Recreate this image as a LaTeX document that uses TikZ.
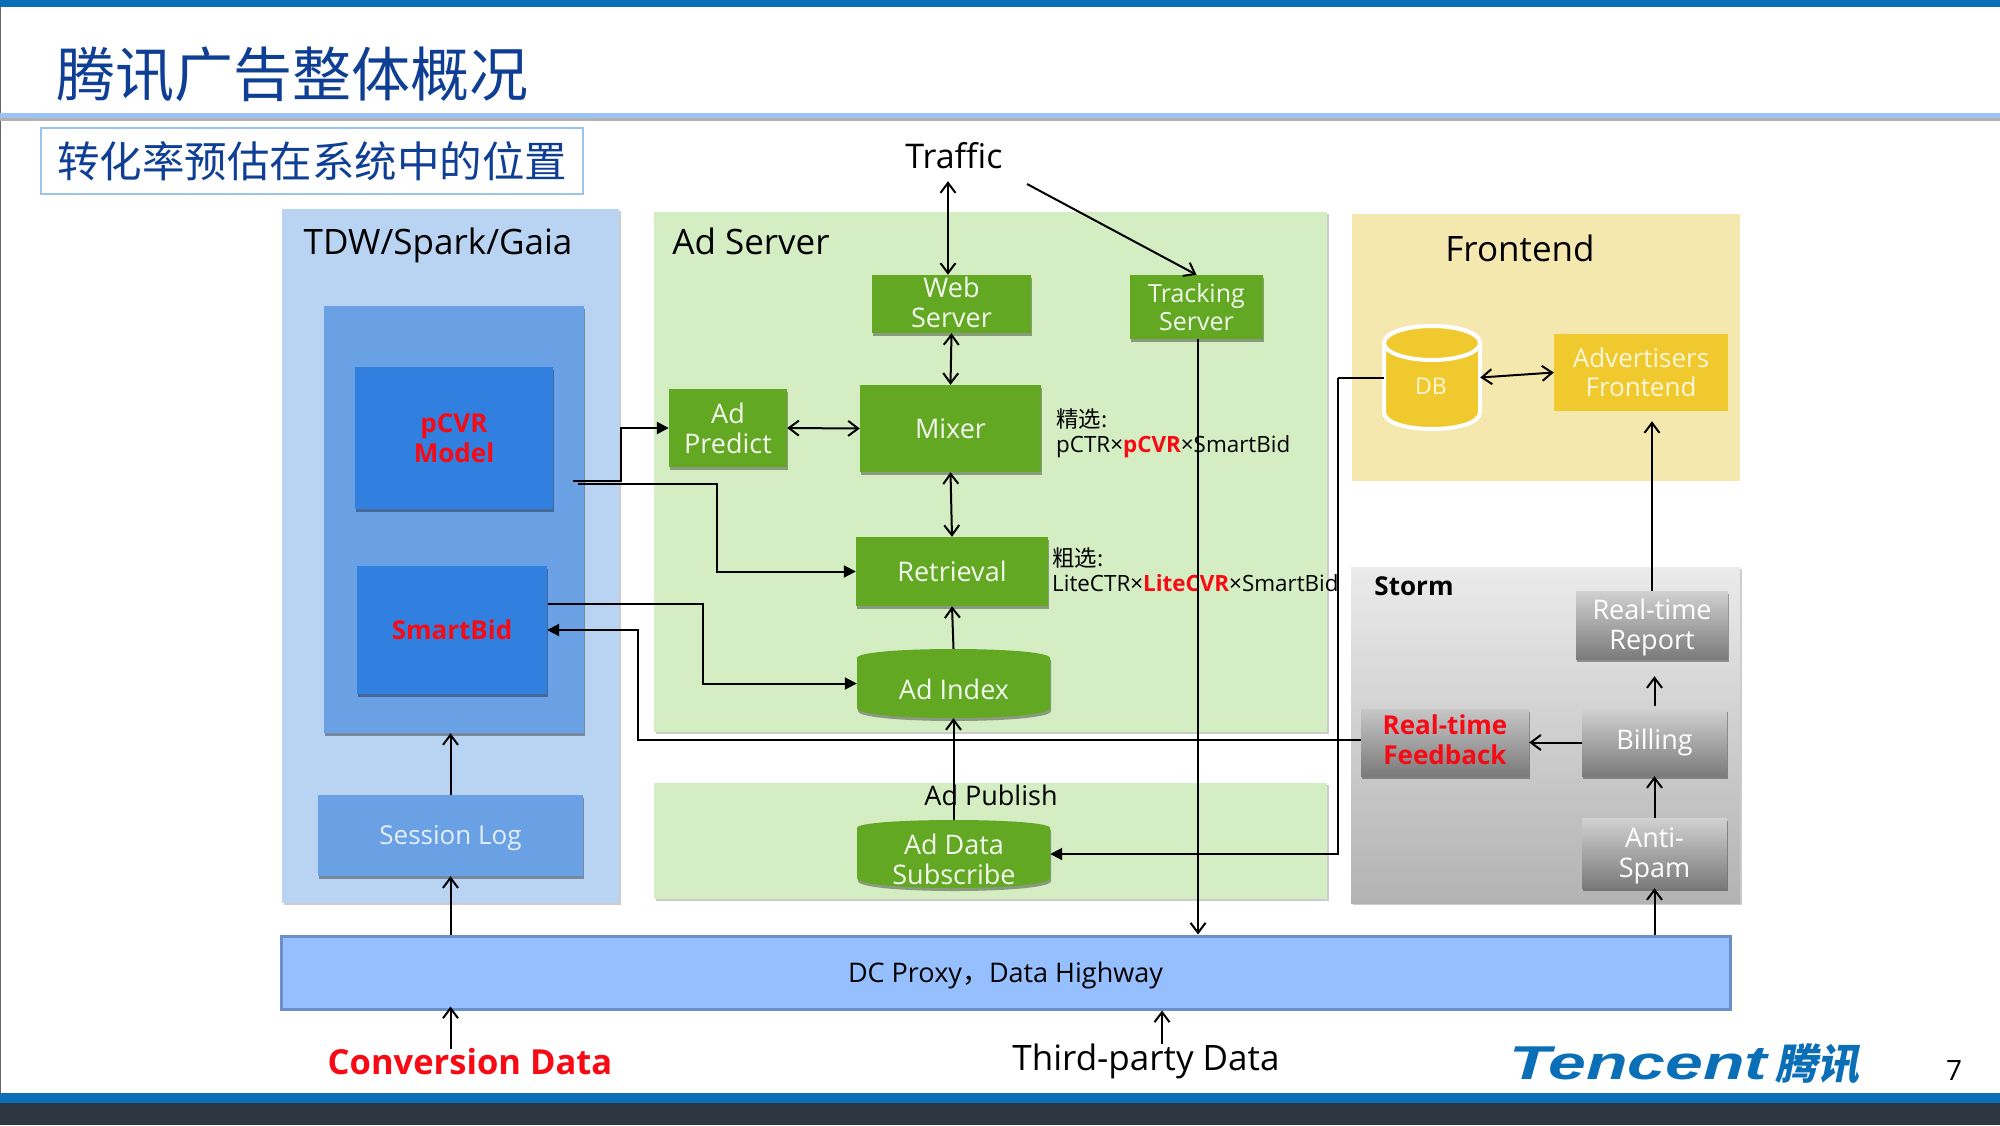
\documentclass[tikz,border=0pt]{standalone}
\usepackage{fontspec}
\setmainfont{Open Sans}
\newfontfamily\cjk{Noto Sans CJK SC}
\newfontfamily\cjkslant[FakeSlant=0.2]{Noto Sans CJK SC}
\newfontfamily\logofont{Liberation Sans}
\usetikzlibrary{arrows.meta,shadows,calc}
\definecolor{topblue}{HTML}{0B6FB8}
\definecolor{darkbar}{HTML}{2E3642}
\definecolor{rulebl}{HTML}{9DC3F5}
\definecolor{titleblue}{HTML}{0F3F94}
\definecolor{panelblue}{HTML}{B9D3F2}
\definecolor{innerblue}{HTML}{6AA1E4}
\definecolor{boxblue}{HTML}{317FDE}
\definecolor{panelgreen}{HTML}{D4EDC3}
\definecolor{boxgreen}{HTML}{62A823}
\definecolor{panelyellow}{HTML}{F5E8AE}
\definecolor{boxyellow}{HTML}{F0C92F}
\definecolor{dcblue}{HTML}{96BFFF}
\definecolor{dcborder}{HTML}{6B8FC9}
\definecolor{paletext}{HTML}{F3F9ED}
\definecolor{paleyel}{HTML}{FDF6D8}
\definecolor{paleblue}{HTML}{E3EEFC}
\definecolor{hotred}{HTML}{F80A14}
\newcommand{\dn}[2]{\raisebox{-#1pt}[\height][\depth]{#2}}
\tikzset{
  fs/.style={font=\fontsize{#1}{\numexpr#1*112/100\relax}\selectfont},
  bfs/.style={font=\bfseries\fontsize{#1}{30}\selectfont},
  softshadow/.style={drop shadow={shadow xshift=1pt,shadow yshift=-3pt,opacity=.35,fill=black}},
  lightshadow/.style={drop shadow={shadow xshift=2pt,shadow yshift=-2pt,opacity=.2,fill=black}},
  panelA/.style={fill=panelblue,lightshadow},
  panelB/.style={fill=panelgreen,lightshadow},
  panelC/.style={fill=panelyellow},
  stormbg/.style={top color=black!8,bottom color=black!30,lightshadow},
  innerbox/.style={fill=innerblue,softshadow},
  bluebox/.style={fill=boxblue,softshadow,text=hotred,bfs=26},
  sessionbox/.style={fill=innerblue,softshadow,text=paleblue,fs=26},
  greenbox/.style={fill=boxgreen,softshadow,text=paletext,fs=27},
  yellowbox/.style={fill=boxyellow,text=paleyel,fs=26},
  graybox/.style={top color=black!18,bottom color=black!52,softshadow,text=white,fs=27},
  grayred/.style={top color=black!22,bottom color=black!52,softshadow,text=hotred,bfs=26},
  dcbox/.style={fill=dcblue,draw=dcborder,line width=3pt},
  subbox/.style={draw=rulebl,line width=1.2pt,fill=white},
  head/.style={fs=35,text=black},
  small/.style={text=black,align=left,anchor=west,inner sep=0pt,font=\fontsize{22.4}{25}\selectfont},
  link/.style={line width=2pt,draw=black},
  oneway/.style={link,-{Straight Barb[length=10pt,width=15pt,line width=2pt]}},
  twoway/.style={link,{Straight Barb[length=10pt,width=15pt,line width=2pt]}-{Straight Barb[length=10pt,width=15pt,line width=2pt]}},
  solidway/.style={link,-{Triangle[length=12pt,width=12pt]}}
}
\newcommand{\bx}[7]{%
  \pgfmathsetmacro\cxv{(#2+#4)/2}\pgfmathsetmacro\cyv{(#3+#5)/2}%
  \pgfmathsetmacro\wv{#4-#2}\pgfmathsetmacro\hv{#5-#3}%
  \node[#6,minimum width=\wv pt,minimum height=\hv pt,inner sep=0pt,align=center] (#1) at (\cxv,\cyv) {#7};}
% name x1 top shoulder x2 lowshoulder bottom
\newcommand{\cylbody}[8]{%
  \pgfmathsetmacro\tcv{#4-(#4-#3)*4/3}\pgfmathsetmacro\bcv{#6+(#7-#6)*4/3}%
  \path[#8] (#2,#4) .. controls (#2,\tcv) and (#5,\tcv) .. (#5,#4) -- (#5,#6) .. controls (#5,\bcv) and (#2,\bcv) .. (#2,#6) -- cycle;
  \bx{#1}{#2}{#3}{#5}{#7}{}{}}
\begin{document}
\begin{tikzpicture}[x=1pt,y=-1pt]
\useasboundingbox (0,0) rectangle (2000,1125);
\fill[white] (0,0) rectangle (2000,1125);
% bars
\fill[topblue] (0,0) rectangle (2000,7);
\fill[darkbar] (0,1101) rectangle (2000,1125);
\fill[topblue] (0,1093) rectangle (2000,1103);
\draw[black!60,line width=1pt] (0.5,7) -- (0.5,1093);
\fill[black!30] (0,116) rectangle (2000,121);
\fill[rulebl] (0,113) rectangle (2000,118);
% title
\node[anchor=west,inner sep=0pt,text=titleblue,font=\cjk\fontsize{59}{62}\selectfont] (title) at (56,74) {腾讯广告整体概况};
\bx{sub}{41}{128}{583}{194}{subbox,text=titleblue,font=\cjk\fontsize{42.5}{46}\selectfont}{转化率预估在系统中的位置}
% panels
\bx{tdw}{282}{209}{619}{903}{panelA}{}
\bx{adsrv}{654}{212}{1327}{732}{panelB}{}
\bx{pub}{654}{783}{1327}{899}{panelB}{}
\bx{front}{1352}{214}{1740}{481}{panelC}{}
\bx{storm}{1351}{567}{1740}{903}{stormbg}{}
\node[head] (tdwt) at (438,245) {TDW/Spark/Gaia};
\node[head] (adt) at (751,241) {Ad Server};
\node[head] (frt) at (1520,248) {Frontend};
\node[bfs=26,inner sep=0pt] (stt) at (1414,586) {Storm};
\node[fs=27,inner sep=0pt] (pubt) at (991,795) {Ad Publish};
% left column
\bx{inner}{324}{306}{584}{733}{innerbox}{}
\bx{pcvr}{355}{367}{553}{509}{bluebox}{pCVR\\Model}
\bx{smart}{357}{566}{547}{694}{bluebox}{SmartBid}
\bx{session}{318}{795}{583}{876}{sessionbox}{\dn{2.5}{Session Log}}
% ad server
\bx{web}{872}{275}{1031}{333}{greenbox}{\dn{-1.5}{Web}\\\dn{-1.5}{Server}}
\bx{track}{1130}{275}{1263}{339}{greenbox,fs=25}{Tracking\\Server}
\bx{predict}{669}{389}{787}{467}{greenbox}{Ad\\Predict}
\bx{mixer}{860}{385}{1041}{472}{greenbox}{Mixer}
\bx{retr}{856}{537}{1048}{606}{greenbox}{Retrieval}
\cylbody{index}{857}{649}{658}{1050}{708}{718}{fill=boxgreen,softshadow}
\node[text=paletext,fs=27,inner sep=0pt] (indext) at (954,689) {Ad Index};
\cylbody{adata}{857}{820}{828}{1050}{878}{888}{fill=boxgreen,softshadow}
\node[text=paletext,fs=27,align=center,inner sep=0pt] (adatat) at (954,859) {Ad Data\\Subscribe};
% notes
\node[small] (n1) at (1056,433) {{\cjk 精选:}\\pCTR×{\color{hotred}\bfseries pCVR}×SmartBid};
\node[small] (n2) at (1052,570) {{\cjk 粗选:}\\LiteCTR×{\color{hotred}\bfseries LiteCVR}×SmartBid};
% frontend
\cylbody{db}{1384}{326}{343}{1480}{412}{429}{fill=boxyellow,draw=white,line width=4pt}
\path[fill=boxyellow,draw=white,line width=4pt] (1432,343) ellipse [x radius=48,y radius=17];
\node[text=paleyel,fs=23,inner sep=0pt] (dbt) at (1431,386) {DB};
\bx{adv}{1554}{334}{1728}{411}{yellowbox}{Advertisers\\Frontend}
% storm
\bx{report}{1576}{591}{1728}{659}{graybox}{\dn{2.5}{Real-time}\\\dn{2.5}{Report}}
\bx{billing}{1582}{709}{1727}{776}{graybox}{Billing}
\bx{anti}{1582}{818}{1727}{888}{graybox}{\dn{2.5}{Anti-}\\\dn{2.5}{Spam}}
\bx{feed}{1361}{709}{1529}{776}{grayred}{\dn{-2.5}{Real-time}\\\dn{-2.5}{Feedback}}
% dc
\bx{dc}{281}{936}{1730}{1009}{dcbox,fs=27}{\dn{2.5}{DC Proxy{\cjk ，}Data Highway}}
% bottom
\node[text=hotred,bfs=34.5,inner sep=0pt] (conv) at (470,1062) {Conversion Data};
\node[fs=35,inner sep=0pt] (third) at (1146,1061.5) {Third-party Data};
\node[anchor=west,inner sep=0pt,text=topblue] (logo) at (1509,1064) {\logofont\bfseries\itshape\fontsize{50}{50}\selectfont\scalebox{1.36}[0.95]{Tencent}\,{\cjkslant\bfseries\fontsize{42}{42}\selectfont 腾讯}};
\node[fs=28,inner sep=0pt] (pagen) at (1954,1070) {7};
% free ends
\coordinate (tfree) at (1027,184);
\coordinate (p1) at (573,481);
\coordinate (p2) at (578,484);
\coordinate (s1) at (548,604);
\node[fs=34,inner sep=0pt,minimum height=50pt] (traffic) at (954,156) {Traffic};
% connectors
\draw[twoway] ([xshift=-6pt]traffic.south) -- ([xshift=-3.5pt]web.north);
\draw[oneway] (tfree) -- (track.north);
\draw[twoway] (web.south) -- (mixer.north);
\draw[twoway] (predict.east) -- (mixer.west);
\draw[twoway] (mixer.south) -- (retr.north);
\draw[oneway] (index.north) -- (retr.south);
\draw[oneway] (adata.north) -- (index.south);
\draw[solidway,line width=2.5pt] (p1) -- ++(48,0) |- (predict.west);
\draw[solidway] (p2) -- ++(139,0) |- (retr.west);
\draw[solidway] (s1) -- ++(155,0) |- (index.west);
\draw[oneway] (billing.west) -- (feed.east);
\draw[solidway] (feed.west |- billing.west) ++(0,-2.5) -- ++(-723,0) |- (smart.east);
\draw[oneway] (anti.north) -- (billing.south);
\draw[oneway,shorten >=17pt,shorten <=3pt] (billing.north) -- (billing.north |- report.south);
\draw[oneway,shorten >=10pt] (report.north) -- (report.north |- adv.south);
\draw[oneway] (anti.south |- dc.north) -- (anti.south);
\draw[link] (db.west) -- ++(-46,0) coordinate (dbk);
\draw[solidway] (dbk) |- (adata.east);
\draw[twoway] (db.east) -- (adv.west);
\draw[oneway] ([xshift=1.5pt]track.south) -- ([xshift=1.5pt]track.south |- dc.north);
\draw[oneway] (session.north) -- (session.north |- inner.south);
\draw[oneway] (session.south |- dc.north) -- (session.south);
\draw[oneway] (session.south |- conv.north) -- ([yshift=4pt]session.south |- dc.south);
\draw[oneway] ([xshift=16pt]third.north) -- ([xshift=16pt]third.north |- dc.south);
\end{tikzpicture}
\end{document}
